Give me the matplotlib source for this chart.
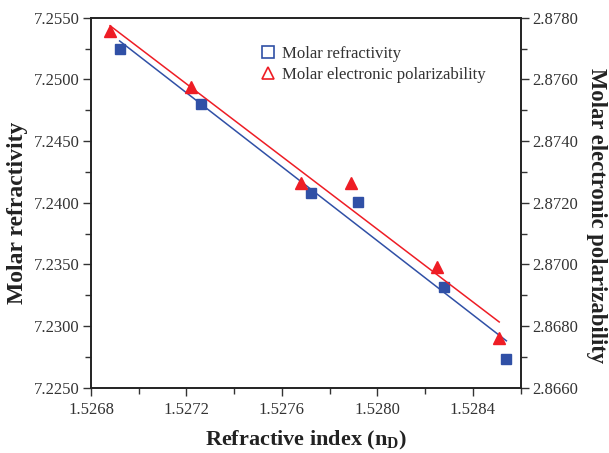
import numpy as np
import matplotlib
matplotlib.use("Agg")
import matplotlib.pyplot as plt
from matplotlib.lines import Line2D

plt.rcParams['font.family'] = ['Liberation Serif', 'DejaVu Serif']
plt.rcParams['mathtext.fontset'] = 'custom'
plt.rcParams['mathtext.rm'] = 'Liberation Serif'
plt.rcParams['mathtext.bf'] = 'Liberation Serif:bold'

# Data
nD_refr = [1.52692, 1.52726, 1.52772, 1.52792, 1.52828, 1.52854]
molar_refractivity = [7.25246, 7.24798, 7.24081, 7.24008, 7.23319, 7.22733]
nD_pol = [1.52688, 1.52722, 1.52768, 1.52789, 1.52825, 1.52851]
molar_polarizability = [2.87757, 2.87575, 2.87263, 2.87263, 2.86990, 2.86760]

xticks = [1.5268, 1.5272, 1.5276, 1.5280, 1.5284]
yticks_left = [7.2250, 7.2300, 7.2350, 7.2400, 7.2450, 7.2500, 7.2550]
yticks_right = [2.8660, 2.8680, 2.8700, 2.8720, 2.8740, 2.8760, 2.8780]

blue = '#3050A6'
red = '#EE1D25'
tick_col = '#333333'
W, H = 609, 453

fig = plt.figure(figsize=(6.09, 4.53), dpi=100)
ax = fig.add_axes([0.1494, 0.1442, 0.7056, 0.8167])
ax2 = ax.twinx()

# linear fits over the data range
x1 = np.array(nD_refr); y1 = np.array(molar_refractivity)
p1 = np.polyfit(x1, y1, 1)
xf1 = np.array([x1.min(), x1.max()])
ax.plot(xf1, np.polyval(p1, xf1), color=blue, lw=1.1, zorder=2)
ax.plot(x1, y1, 's', color=blue, ms=6.5, mec=blue, zorder=3)

x2 = np.array(nD_pol); y2 = np.array(molar_polarizability)
p2 = np.polyfit(x2, y2, 1)
xf2 = np.array([x2.min(), x2.max()])
ax2.plot(xf2, np.polyval(p2, xf2), color=red, lw=1.1, zorder=2)
ax2.plot(x2, y2, '^', color=red, ms=9, mec=red, zorder=3)

ax.set_xlim(1.5268, 1.5286)
ax.set_ylim(7.2250, 7.2550)
ax2.set_ylim(2.8660, 2.8780)

ax.set_xticks(xticks)
ax.set_xticklabels([f'{v:.4f}' for v in xticks])
ax.set_xticks([v + 0.0002 for v in xticks], minor=True)
ax.set_yticks(yticks_left)
ax.set_yticklabels([f'{v:.4f}' for v in yticks_left])
ax.set_yticks([v + 0.0025 for v in yticks_left[:-1]], minor=True)
ax2.set_yticks(yticks_right)
ax2.set_yticklabels([f'{v:.4f}' for v in yticks_right])
ax2.set_yticks([v + 0.001 for v in yticks_right[:-1]], minor=True)

for a in (ax, ax2):
    a.tick_params(which='major', direction='out', length=6, width=1.0,
                  labelsize=12, colors=tick_col, labelcolor=tick_col, pad=2)
    a.tick_params(which='minor', direction='out', length=4, width=1.0, colors=tick_col)
    for s in a.spines.values():
        s.set_linewidth(1.2)
        s.set_color('#222222')
ax.tick_params(axis='x', which='both', top=False)
ax.tick_params(axis='x', which='major', pad=4)

fig.text(306 / W, 1 - 445 / H, r'Refractive index (n$_{\mathbf{D}}$)', fontsize=16,
         fontweight='bold', ha='center', va='baseline', color='#222222')
fig.text(18 / W, 1 - 213 / H, 'Molar refractivity', fontsize=17, fontweight='bold',
         rotation=90, ha='center', va='center', color='#222222')
fig.text(597 / W, 1 - 216 / H, 'Molar electronic polarizability', fontsize=16.3,
         fontweight='bold', rotation=270, ha='center', va='center', color='#222222')

handles = [Line2D([], [], ls='none', marker='s', mfc='none', mec=blue, ms=8, mew=1.2),
           Line2D([], [], ls='none', marker='^', mfc='none', mec=red, ms=8, mew=1.2)]
leg = ax.legend(handles, ['Molar refractivity', 'Molar electronic polarizability'],
                loc='upper left', bbox_to_anchor=(0.37, 0.955), frameon=False,
                fontsize=12.1, handlelength=0.8, handletextpad=0.4,
                labelspacing=0.3, borderpad=0.2)
for t in leg.get_texts():
    t.set_color('#333333')

fig.savefig('out.png', dpi=100)
